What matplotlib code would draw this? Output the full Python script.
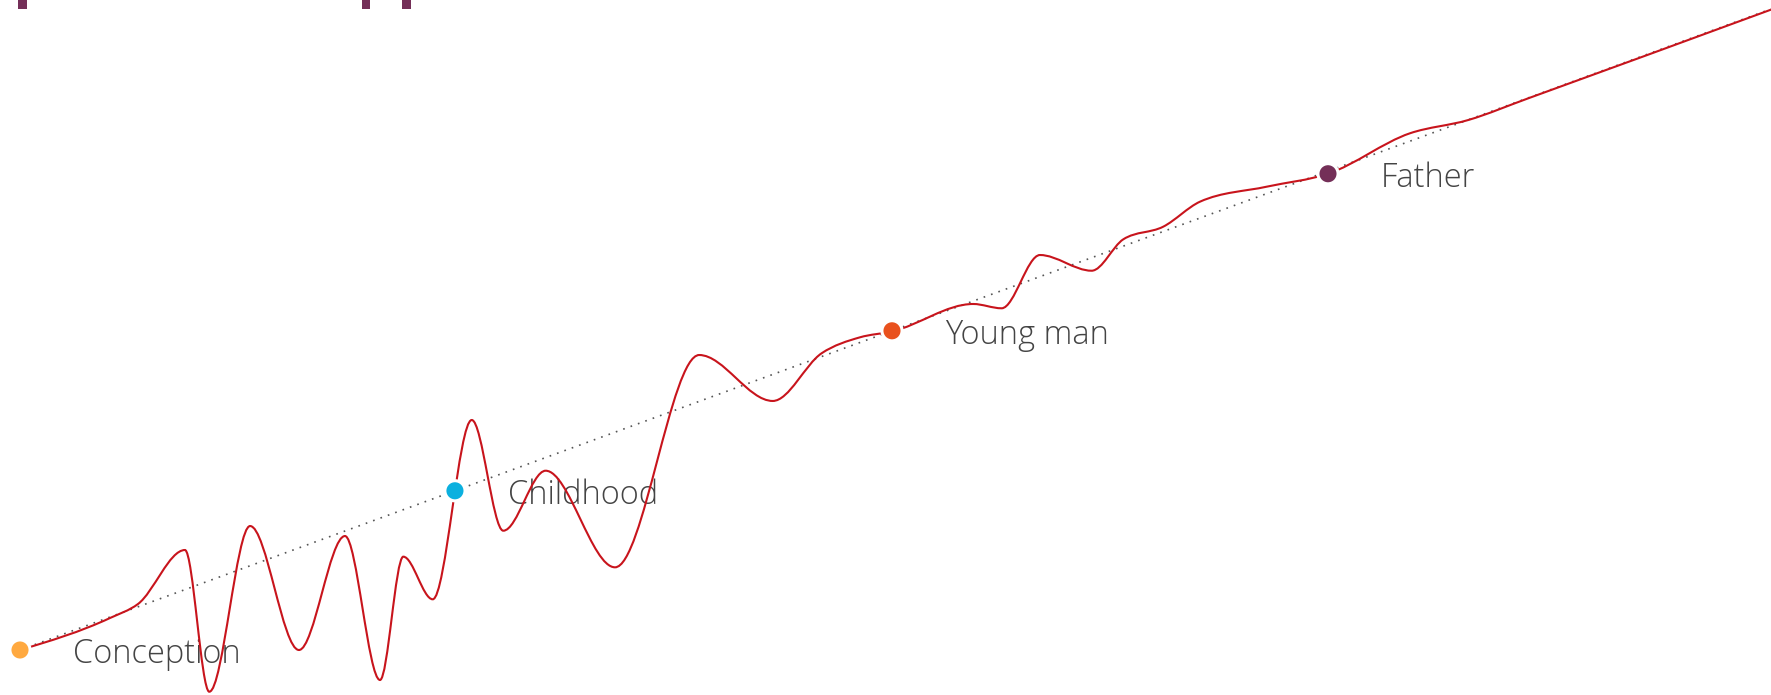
import numpy as np
import matplotlib
matplotlib.use("Agg")
import matplotlib.pyplot as plt
from matplotlib.path import Path
from matplotlib.patches import PathPatch, Rectangle

# life path (x: stage 0-100, y: growth 0-100)
# mostly the peaks and troughs, plus a few points on the calmer stretches
path_x = [0, 5.14, 6.74, 9.42, 10.81, 13.14, 15.93, 18.56, 20.56, 21.89,
          23.57, 25.80, 27.60, 30.02, 33.98, 38.79, 42.99, 45.78, 47.97, 49.8,
          54.44, 56.06, 58.25, 61.20, 63.01, 65.29, 67.39, 71.2, 74.7, 79.38,
          82.71, 86.14, 100]
path_y = [0, 4.99, 7.18, 15.6, -6.51, 19.34, 0, 17.78, -4.68, 14.56,
          7.91, 35.88, 18.61, 27.97, 12.90, 46.02, 38.85, 46.29, 48.78, 49.7,
          53.98, 53.31, 61.62, 59.17, 64.07, 66.04, 69.94, 72.28, 74.3, 80.61,
          82.68, 86.07, 99.9]

stages = ["Conception", "Childhood", "Young man", "Father"]
stage_x = [0, 24.84, 49.8, 74.7]
stage_y = [0, 24.84, 49.8, 74.3]
stage_colors = ["#ffa940", "#0bb0df", "#e9511d", "#742f58"]

# bits of a clipped heading at the top edge (figure pixels)
heading_bits = [18, 361.7, 402.3]

W, H = 1771, 695


def monotone_x_path(xs, ys):
    # same idea as d3.curveMonotoneX: cubic segments, flat at local peaks
    x = np.asarray(xs, float)
    y = np.asarray(ys, float)
    n = len(x)
    h = np.diff(x)
    s = np.diff(y) / h
    t = np.zeros(n)
    for i in range(1, n - 1):
        p = (s[i - 1] * h[i] + s[i] * h[i - 1]) / (h[i - 1] + h[i])
        t[i] = (np.sign(s[i - 1]) + np.sign(s[i])) * min(abs(s[i - 1]), abs(s[i]), 0.5 * abs(p))
    t[0] = (3 * s[0] - t[1]) / 2
    t[-1] = (3 * s[-1] - t[-2]) / 2
    verts = [(x[0], y[0])]
    codes = [Path.MOVETO]
    for i in range(n - 1):
        dx = h[i] / 3
        verts += [(x[i] + dx, y[i] + dx * t[i]), (x[i + 1] - dx, y[i + 1] - dx * t[i + 1]),
                  (x[i + 1], y[i + 1])]
        codes += [Path.CURVE4] * 3
    return Path(verts, codes)


fig = plt.figure(figsize=(W / 100, H / 100), dpi=100)
left = 20 / W
bottom = 1 - 650 / H
top = 1 - 9 / H
ax = fig.add_axes([left, bottom, 1 - left, top - bottom])
ax.set_xlim(0, 100)
ax.set_ylim(0, 100)
ax.axis("off")

# straight trend
ax.plot([0, 100], [0, 100], color="#555555", lw=1.2, linestyle=(0, (1, 3.7)),
        dash_capstyle="butt", clip_on=False, zorder=2)

# labels sit under the wavy line
for name, x, y in zip(stages, stage_x, stage_y):
    ax.annotate(name, (x, y), xytext=(38, -9.5), textcoords="offset points",
                ha="left", va="baseline", fontsize=23.5, color="#444444",
                family=["Open Sans", "DejaVu Sans"], fontweight="light", zorder=3)

patch = PathPatch(monotone_x_path(path_x, path_y), facecolor="none",
                  edgecolor="#c8141c", lw=1.5, clip_on=False, zorder=4)
ax.add_patch(patch)

ax.scatter(stage_x, stage_y, s=14.5 ** 2, c=stage_colors, edgecolors="white",
           linewidths=2.2, clip_on=False, zorder=5)

for bx in heading_bits:
    fig.add_artist(Rectangle((bx / W, 1 - 9.3 / H), 8.7 / W, 9.3 / H,
                             transform=fig.transFigure, color="#742f58", lw=0))

fig.savefig("out.png", dpi=100, facecolor="white")
